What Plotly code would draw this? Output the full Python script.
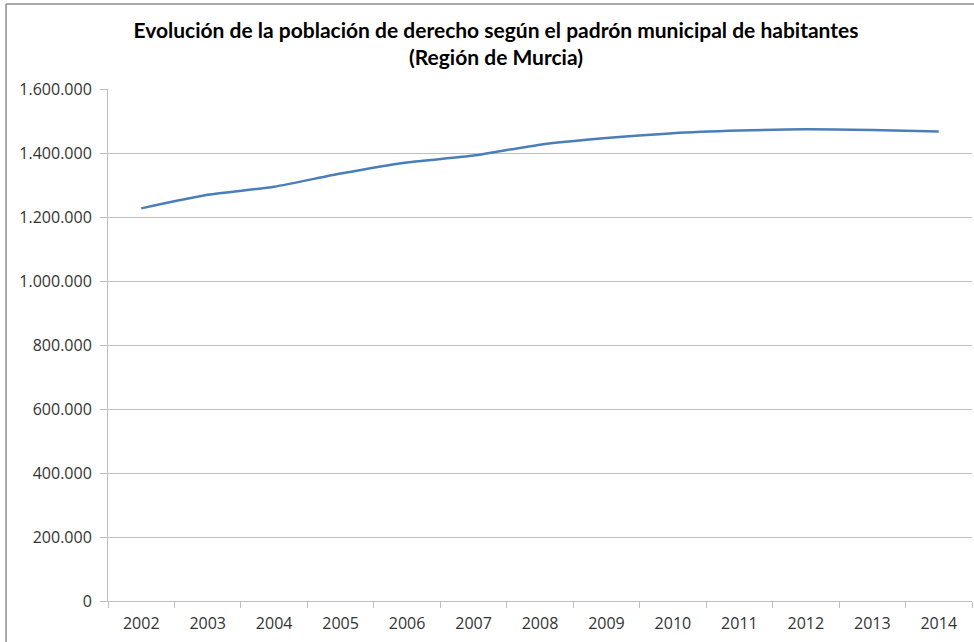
import plotly.graph_objects as go

years = ["2002", "2003", "2004", "2005", "2006", "2007", "2008",
         "2009", "2010", "2011", "2012", "2013", "2014"]
population = [1226993, 1269230, 1294694, 1335792, 1370306, 1392117, 1426109,
              1446520, 1461979, 1470069, 1474449, 1472049, 1466818]
y_ticks = [0, 200000, 400000, 600000, 800000, 1000000, 1200000, 1400000, 1600000]

W, H = 974, 642
L, R, T, B = 108, 1.5, 89, 41
pw, ph = W - L - R, H - T - B

fig = go.Figure()
fig.add_trace(go.Scatter(
    x=years, y=population, mode="lines",
    line=dict(color="#4A7EBB", width=2.5, shape="spline", smoothing=0.6),
    hoverinfo="x+y", showlegend=False,
))

grid = "#BFBFBF"
fig.update_layout(
    width=W, height=H,
    margin=dict(l=L, r=R, t=T, b=B),
    paper_bgcolor="white", plot_bgcolor="white",
    separators=",.",
    font=dict(family="Open Sans, Lato, sans-serif", size=16, color="#333333"),
    title=dict(
        text="<b>Evolución de la población de derecho según el padrón municipal de habitantes<br>(Región de Murcia)</b>",
        x=496 / W, xref="container", xanchor="center",
        y=1 - 38 / H, yref="container", yanchor="middle",
        font=dict(family="Lato, sans-serif", size=21, color="#000000"),
    ),
    xaxis=dict(
        type="category", range=[-0.5, 12.5],
        showgrid=False, showline=True, linecolor=grid, linewidth=1,
        ticks="outside", tickson="boundaries", ticklen=6, tickcolor=grid,
        tickfont=dict(size=16, color="#333333"),
        ticklabelstandoff=8,
        fixedrange=True,
    ),
    yaxis=dict(
        range=[0, 1600000], tickvals=y_ticks, tickformat=",d",
        showgrid=True, gridcolor=grid, gridwidth=1,
        showline=True, linecolor=grid, linewidth=1,
        ticks="outside", ticklen=7, tickcolor=grid,
        tickfont=dict(size=16, color="#333333"),
        zeroline=False, ticklabelstandoff=5,
    ),
    shapes=[
        dict(type="line", xref="paper", yref="paper",
             x0=(6 - L) / pw, x1=(6 - L) / pw,
             y0=(T + ph - 660) / ph, y1=1 + (T - 4) / ph,
             line=dict(color="#8C8C8C", width=1.5)),
        dict(type="line", xref="paper", yref="paper",
             x0=(6 - L) / pw, x1=(990 - L) / pw,
             y0=1 + (T - 4) / ph, y1=1 + (T - 4) / ph,
             line=dict(color="#8C8C8C", width=1.5)),
    ],
)

fig.write_html(
    "out.html",
    config={"displayModeBar": False},
    post_script="document.body.style.margin='0';document.body.style.overflow='hidden';",
)
